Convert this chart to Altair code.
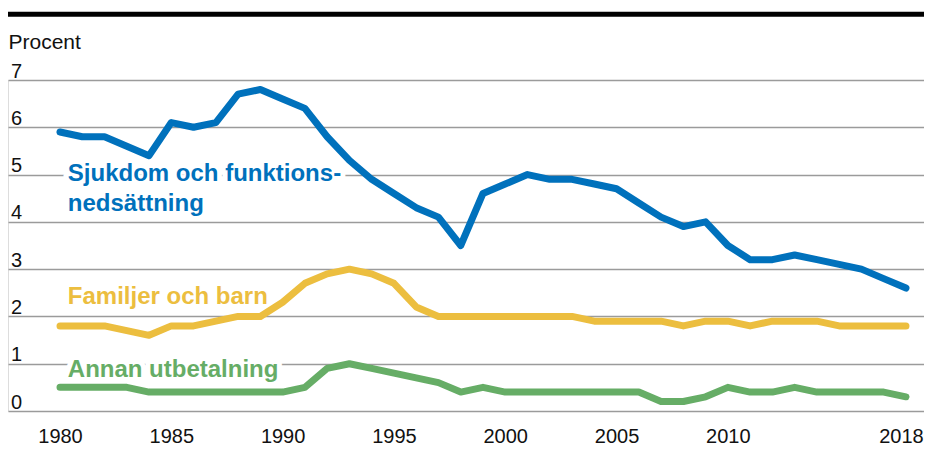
import altair as alt
import pandas as pd

years = list(range(1980, 2019))
sjukdom = [5.9, 5.8, 5.8, 5.6, 5.4, 6.1, 6.0, 6.1, 6.7, 6.8,
           6.6, 6.4, 5.8, 5.3, 4.9, 4.6, 4.3, 4.1, 3.5, 4.6,
           4.8, 5.0, 4.9, 4.9, 4.8, 4.7, 4.4, 4.1, 3.9, 4.0,
           3.5, 3.2, 3.2, 3.3, 3.2, 3.1, 3.0, 2.8, 2.6]
familjer = [1.8, 1.8, 1.8, 1.7, 1.6, 1.8, 1.8, 1.9, 2.0, 2.0,
            2.3, 2.7, 2.9, 3.0, 2.9, 2.7, 2.2, 2.0, 2.0, 2.0,
            2.0, 2.0, 2.0, 2.0, 1.9, 1.9, 1.9, 1.9, 1.8, 1.9,
            1.9, 1.8, 1.9, 1.9, 1.9, 1.8, 1.8, 1.8, 1.8]
annan = [0.5, 0.5, 0.5, 0.5, 0.4, 0.4, 0.4, 0.4, 0.4, 0.4,
         0.4, 0.5, 0.9, 1.0, 0.9, 0.8, 0.7, 0.6, 0.4, 0.5,
         0.4, 0.4, 0.4, 0.4, 0.4, 0.4, 0.4, 0.2, 0.2, 0.3,
         0.5, 0.4, 0.4, 0.5, 0.4, 0.4, 0.4, 0.4, 0.3]

series_names = ["Sjukdom och funktionsnedsättning", "Familjer och barn", "Annan utbetalning"]
series_colors = ["#0071BC", "#ECBE3F", "#66AD66"]

label_texts = ["Sjukdom och funktions-\nnedsättning", "Familjer och barn", "Annan utbetalning"]
label_years = [1980.35, 1980.35, 1980.35]
label_values = [4.86, 2.26, 0.72]

x_ticks = [1980, 1985, 1990, 1995, 2000, 2005, 2010, 2018]
y_ticks = [0, 1, 2, 3, 4, 5, 6, 7]

FONT = "Liberation Sans, Arial, Helvetica, sans-serif"

rows = []
for name, vals in zip(series_names, [sjukdom, familjer, annan]):
    for yr, v in zip(years, vals):
        rows.append({"year": yr, "value": v, "series": name})
df = pd.DataFrame(rows)

labels = pd.DataFrame({
    "text": label_texts,
    "year": label_years,
    "value": label_values,
    "series": series_names,
})

color_scale = alt.Scale(domain=series_names, range=series_colors)
x_scale = alt.Scale(domain=[1977.664, 2018.81], nice=False, zero=False)
y_scale = alt.Scale(domain=[0, 7], nice=False)

x_enc = alt.X(
    "year:Q", scale=x_scale,
    axis=alt.Axis(values=x_ticks, format="d", grid=False, ticks=False, tickSize=0,
                  domain=False, labelFontSize=20, labelPadding=31,
                  labelBaseline="alphabetic", labelColor="#111111",
                  labelOffset={"expr": "datum.value == 2018 ? -5 : 0"},
                  labelFont=FONT, title=None),
)
y_enc = alt.Y(
    "value:Q", scale=y_scale,
    axis=alt.Axis(values=y_ticks, grid=True, gridColor="#9b9b9b", gridWidth=1.3,
                  ticks=False, tickSize=0, domain=False,
                  labelAlign="left", labelBaseline="alphabetic",
                  labelPadding=-2.5, labelOffset=-3, labelFontSize=20,
                  labelColor="#111111", labelFont=FONT,
                  title="Procent", titleAngle=0, titleAlign="left",
                  titleBaseline="alphabetic", titleX=0, titleY=-32,
                  titleFontSize=21, titleFontWeight="normal",
                  titleColor="#111111", titleFont=FONT),
)

lines = alt.Chart(df).mark_line(
    strokeWidth=7, strokeCap="round", strokeJoin="round"
).encode(
    x=x_enc, y=y_enc,
    color=alt.Color("series:N", scale=color_scale, legend=None),
    detail="series:N",
)

halo = alt.Chart(labels).mark_text(
    align="left", baseline="alphabetic", fontSize=24, fontWeight="bold",
    lineBreak="\n", lineHeight=30, font=FONT,
    fill="white", stroke="white", strokeWidth=10, strokeJoin="round",
).encode(
    x=alt.X("year:Q", scale=x_scale),
    y=alt.Y("value:Q", scale=y_scale),
    text="text:N",
)

texts = alt.Chart(labels).mark_text(
    align="left", baseline="alphabetic", fontSize=24, fontWeight="bold",
    lineBreak="\n", lineHeight=30, font=FONT,
).encode(
    x=alt.X("year:Q", scale=x_scale),
    y=alt.Y("value:Q", scale=y_scale),
    text="text:N",
    color=alt.Color("series:N", scale=color_scale, legend=None),
)

top_bar = alt.Chart(pd.DataFrame({"bar": [0]})).mark_rule(
    color="black", strokeWidth=5
).encode(
    x=alt.value(0), x2=alt.value(916), y=alt.value(-65.7)
)

chart = alt.layer(halo, lines, texts, top_bar).properties(
    width=916, height=331,
    autosize=alt.AutoSizeParams(type="none"),
    padding={"left": 0, "top": 72, "right": 0, "bottom": 38},
).configure_view(stroke=None).configure(font=FONT)

chart.save("out.html", embed_options={"renderer": "svg", "actions": False})
